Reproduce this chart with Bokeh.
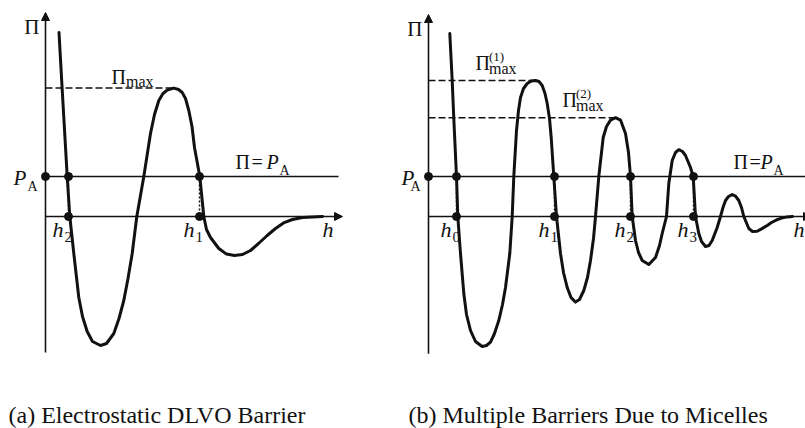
from bokeh.plotting import figure
from bokeh.layouts import row
from bokeh.models import Label, Arrow, NormalHead, Range1d
from bokeh.embed import file_html
from bokeh.resources import INLINE

# ---- disjoining pressure curves (h, Pi), with Pi measured in units of P_A ----
P_A = 1.0

# (a) single electrostatic DLVO barrier
a_h = [1.35, 1.67, 2.17, 2.43, 2.83, 3.33, 3.70, 4.17, 4.70, 5.50, 6.10, 6.83,
       7.35, 7.83, 8.25, 8.67, 9.13, 9.83, 10.5, 10.9, 11.33, 11.75, 12.17,
       12.83, 13.3, 13.67, 14.0, 14.33, 14.65, 14.9, 15.43, 15.83, 16.1, 16.5,
       17.33, 18.1, 18.9, 19.7, 20.5, 21.3, 22.17, 23.0, 23.8, 24.7, 25.7,
       26.7, 27.7]
a_pi = [4.60, 3.175, 1.0, 0.0, -0.925, -2.025, -2.5, -2.875, -3.125, -3.225,
        -3.175, -2.925, -2.55, -2.10, -1.55, -0.925, 0.0, 1.0, 2.075, 2.55,
        2.9, 3.075, 3.16, 3.21, 3.175, 3.10, 2.95, 2.65, 2.25, 1.725, 1.0, 0.0,
        -0.325, -0.525, -0.8, -0.94, -0.975, -0.95, -0.85, -0.675, -0.475,
        -0.3, -0.16, -0.075, -0.025, -0.01, 0.0]
a_pi_max = 3.21
a_peak_h = 12.83
a_roots = [2.3, 15.4]
a_root_names = ["2", "1"]

# (b) oscillatory structural barriers from micelles
b_h = [2.13, 2.37, 2.53, 2.8, 2.93, 3.2, 3.53, 3.8, 4.2, 4.7, 5.37, 5.8, 6.2,
       6.6, 7.03, 7.4, 7.7, 8.13, 8.37, 8.53, 8.8, 9.0, 9.2, 9.5, 9.87, 10.3,
       10.7, 11.05, 11.37, 11.65, 11.87, 12.1, 12.27, 12.53, 12.8, 13.2, 13.5,
       13.87, 14.25, 14.7, 15.1, 15.53, 15.9, 16.2, 16.5, 16.7, 17.03, 17.47,
       17.8, 18.2, 18.7, 19.2, 19.7, 20.0, 20.2, 20.37, 20.7, 21.0, 21.37,
       22.03, 22.7, 23.1, 23.37, 23.8, 24.03, 24.37, 24.7, 25.03, 25.4, 25.7,
       26.2, 26.47, 26.7, 27.03, 27.3, 27.7, 28.05, 28.37, 28.87, 29.2, 29.45,
       29.7, 30.0, 30.37, 30.7, 31.03, 31.3, 31.53, 32.03, 32.4, 32.87, 33.3,
       33.87, 34.3, 34.87, 35.3, 35.87, 36.4]
b_pi = [4.575, 3.4, 2.45, 1.0, 0.0, -0.925, -1.925, -2.45, -2.85, -3.125,
        -3.25, -3.225, -3.14, -2.925, -2.6, -2.2, -1.775, -0.925, 0.0, 1.0,
        2.15, 2.65, 2.975, 3.2, 3.325, 3.39, 3.4, 3.375, 3.275, 3.075, 2.825,
        2.45, 1.975, 1.0, 0.0, -0.925, -1.4, -1.775, -2.025, -2.14, -2.075,
        -1.85, -1.525, -1.1, -0.55, 0.0, 1.0, 1.975, 2.25, 2.41, 2.47, 2.41,
        2.075, 1.6, 1.0, 0.0, -0.6, -0.9, -1.1, -1.2, -1.025, -0.725, -0.425,
        0.0, 0.825, 1.4, 1.6, 1.67, 1.625, 1.525, 1.225, 1.0, 0.0, -0.425,
        -0.625, -0.75, -0.725, -0.6, -0.275, 0.0, 0.225, 0.4, 0.5, 0.55, 0.51,
        0.4, 0.225, 0.0, -0.3, -0.375, -0.37, -0.31, -0.225, -0.15, -0.08,
        -0.04, -0.01, 0.0]
b_pi_max = [3.4, 2.47]
b_peak_h = [10.7, 18.7]
b_roots = [2.8, 12.6, 20.2, 26.5]
b_root_names = ["0", "1", "2", "3"]
b_max_names = ["(1)", "(2)"]

captions = ["(a) Electrostatic DLVO Barrier", "(b) Multiple Barriers Due to Micelles"]

INK = "#111111"
SERIF = "Liberation Serif"
PX_H = 10.0   # screen pixels per unit of h
PX_PI = 40.0  # screen pixels per unit of Pi
HEIGHT = 428
Y_LO, Y_HI = -5.3, 5.4


def put(p, x, y, s, size=20, italic=False, dx=0, dy=0, align="left"):
    """Place a text centred vertically on (x, y) shifted by (dx, dy) pixels."""
    p.add_layout(Label(x=x, y=y, x_offset=dx, y_offset=dy, text=s,
                       text_font=SERIF, text_font_size=f"{size}px",
                       text_font_style="italic" if italic else "normal",
                       text_color=INK, text_align=align,
                       text_baseline="middle"))


def panel(width, x0, h, pi, roots, root_names, axis_bottom, axis_top,
          h_axis_end, pa_end, caption, p_dx, h_lab_dx):
    p = figure(width=width, height=HEIGHT,
               x_range=Range1d(x0, x0 + width / PX_H),
               y_range=Range1d(Y_LO, Y_HI),
               output_backend="svg", toolbar_location=None, min_border=0,
               outline_line_color=None, background_fill_color="white",
               border_fill_color="white")
    p.xaxis.visible = False
    p.yaxis.visible = False
    p.xgrid.visible = False
    p.ygrid.visible = False

    # coordinate axes drawn as arrows through the origin
    p.add_layout(Arrow(end=NormalHead(size=8, fill_color=INK, line_color=INK, line_width=1),
                       x_start=0, y_start=axis_bottom, x_end=0, y_end=axis_top,
                       line_color=INK, line_width=1.6))
    p.add_layout(Arrow(end=NormalHead(size=8, fill_color=INK, line_color=INK, line_width=1),
                       x_start=0, y_start=0, x_end=h_axis_end, y_end=0,
                       line_color=INK, line_width=1.6))
    # applied capillary pressure level
    p.line([0, pa_end], [P_A, P_A], line_color=INK, line_width=1.6)
    # short dotted drops from the Pi = P_A crossings to the h axis
    p.segment(x0=roots, y0=[P_A] * len(roots), x1=roots, y1=[0] * len(roots),
              line_color=INK, line_width=1.5, line_dash="2 2")

    p.line(h, pi, line_color=INK, line_width=3, line_join="round", line_cap="round")

    p.scatter([0] + roots + roots, [P_A] + [P_A] * len(roots) + [0] * len(roots),
              size=8, fill_color=INK, line_color=INK)

    # axis captions
    put(p, 0, axis_top, "Π", size=21, dx=-6, dy=-14.5, align="right")
    put(p, h_axis_end, 0, "h", size=22, italic=True, dx=h_lab_dx, dy=-13)
    put(p, 0, P_A, "P", size=21, italic=True, dx=p_dx, dy=-1.5)
    put(p, 0, P_A, "A", size=14, dx=-18, dy=-10)

    for r, k in zip(roots, root_names):
        put(p, r, 0, "h", size=22, italic=True, dx=-16, dy=-12.5)
        put(p, r, 0, k, size=15, dx=-4, dy=-20.5)

    put(p, x0, Y_LO, caption, size=24, dx=8, dy=14)
    return p


# ---- panel (a) ----
pa = panel(400, -4.5, a_h, a_pi, a_roots, a_root_names,
           axis_bottom=-3.4, axis_top=5.1, h_axis_end=29.7, pa_end=29.3,
           caption=captions[0], p_dx=-32, h_lab_dx=-20)
pa.line([0, a_peak_h], [a_pi_max, a_pi_max], line_color=INK, line_width=1.5, line_dash="7 3")
put(pa, 0, a_pi_max, "Π", size=20, dx=66, dy=11)
put(pa, 0, a_pi_max, "max", size=16, dx=80.5, dy=7)
# Pi = P_A annotation
for s, dx, dy, size, it in [("Π", 0, 14.5, 20, False), ("=", 16, 14.5, 20, False),
                            ("P", 31, 14.5, 20, True), ("A", 44, 6, 14, False)]:
    put(pa, 19.0, P_A, s, size=size, italic=it, dx=dx, dy=dy)

# ---- panel (b) ----
pb = panel(405, -2.8, b_h, b_pi, b_roots, b_root_names,
           axis_bottom=-3.43, axis_top=5.05, h_axis_end=38.3, pa_end=37.7,
           caption=captions[1], p_dx=-27, h_lab_dx=-18)
label_dx = [47, 134]
for ph, pm, name, ldx in zip(b_peak_h, b_pi_max, b_max_names, label_dx):
    pb.line([0, ph], [pm, pm], line_color=INK, line_width=1.5, line_dash="7 3")
    put(pb, 0, pm, "Π", size=20, dx=ldx, dy=18)
    put(pb, 0, pm, name, size=13, dx=ldx + 13.5, dy=24)
    put(pb, 0, pm, "max", size=16, dx=ldx + 13.5, dy=12.5)
for s, dx, dy, size, it in [("Π", 0, 14.5, 20, False), ("=", 16, 14.5, 20, False),
                            ("P", 27, 14.5, 20, True), ("A", 40, 6, 14, False)]:
    put(pb, 30.5, P_A, s, size=size, italic=it, dx=dx, dy=dy)

layout = row(pa, pb)
open("out.html", "w").write(file_html(layout, INLINE))
